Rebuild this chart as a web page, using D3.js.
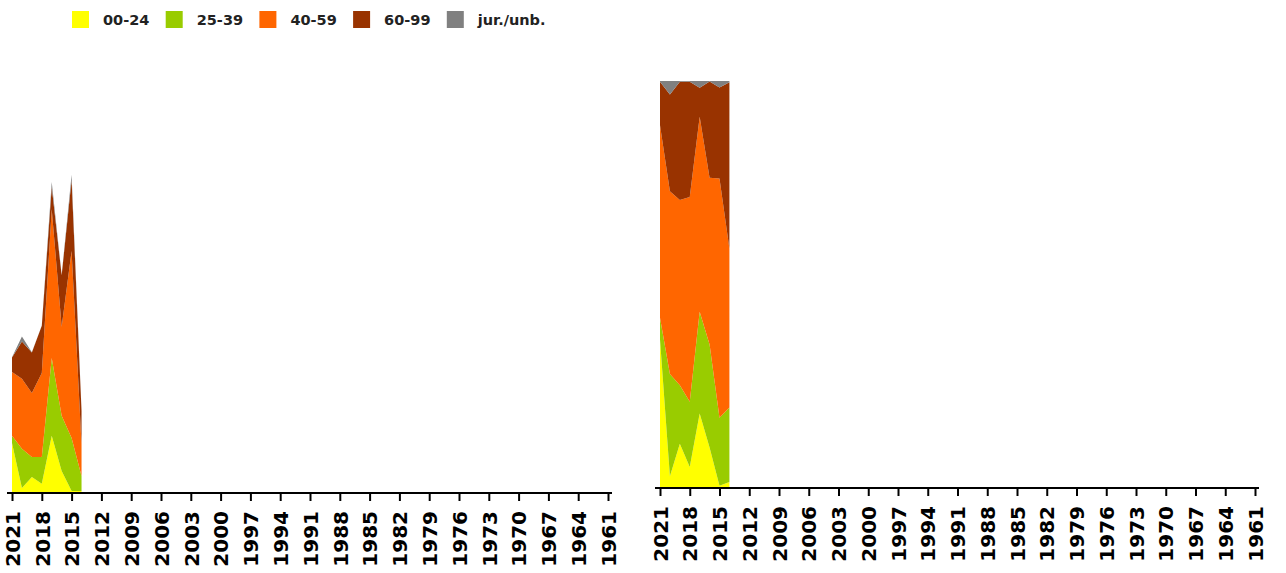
<!DOCTYPE html>
<html>
<head>
<meta charset="utf-8">
<script src="https://cdn.jsdelivr.net/npm/d3@7"></script>
<style>
  html, body { margin: 0; padding: 0; background: #fff; }
  svg { display: block; }
  text { font-family: "DejaVu Sans", Verdana, sans-serif; font-weight: bold; }
</style>
</head>
<body>
<svg id="chart" width="1286" height="573"></svg>
<script>
// ---- data ----
const years = [2021, 2020, 2019, 2018, 2017, 2016, 2015, 2014];
const ageGroups = ["00-24", "25-39", "40-59", "60-99", "jur./unb."];
const colors = ["#FFFF00", "#99CC00", "#FF6600", "#993300", "#808080"];
const v00_24 = [9.5, 0.8, 2.9, 1.6, 10.9, 4.1, 0.2, 0.2];
const v25_39 = [1.4, 7.6, 3.9, 5.2, 15.1, 10.7, 10.3, 2.9];
const v40_59 = [12.4, 13.6, 12.4, 16.3, 28.9, 17.3, 36.3, 6.2];
const v60_99 = [2.8, 7.2, 7.9, 9.2, 4.3, 10.0, 13.8, 6.5];
const vJur   = [0.05, 1.0, 0.05, 0.05, 1.0, 0.05, 1.0, 0.05];
const tickYears = d3.range(2021, 1960, -3);
const yMaxAbs = 80;

const series = [v00_24, v25_39, v40_59, v60_99, vJur];
const rows = years.map((y, i) => {
  const r = { year: y };
  ageGroups.forEach((g, k) => { r[g] = series[k][i]; });
  return r;
});

const svg = d3.select("#chart");

// ---- legend ----
const legend = svg.append("g");
ageGroups.forEach((g, k) => {
  const lx = 72 + k * 93.7;
  legend.append("rect").attr("x", lx).attr("y", 11).attr("width", 17).attr("height", 17)
    .attr("fill", colors[k]);
  legend.append("text").attr("x", lx + 31).attr("y", 25).attr("font-size", 14.5)
    .attr("fill", "#222").text(g);
});

function panel(opts) {
  const x = d3.scaleLinear().domain([2021, 1961]).range([opts.x0, opts.x1]);
  const y = d3.scaleLinear().domain(opts.yDomain).range([opts.yBottom, opts.yTop]);
  const stack = d3.stack().keys(ageGroups).order(d3.stackOrderNone).offset(opts.offset);
  const layers = stack(rows);
  const area = d3.area()
    .x(d => x(d.data.year))
    .y0(d => y(d[0]))
    .y1(d => y(d[1]));
  const g = svg.append("g");
  g.selectAll("path.layer").data(layers).join("path")
    .attr("class", "layer")
    .attr("d", area)
    .attr("fill", (d, i) => colors[i]);

  // axis
  const ax = g.append("g").attr("transform", `translate(0,${opts.axisY})`);
  ax.append("line").attr("x1", opts.x0 - 5).attr("x2", opts.x1 + 4)
    .attr("y1", 0).attr("y2", 0).attr("stroke", "#000").attr("stroke-width", 2);
  const axis = d3.axisBottom(x).tickValues(tickYears).tickSize(8).tickFormat(d3.format("d"));
  const axG = ax.append("g").call(axis);
  axG.select(".domain").remove();
  axG.selectAll(".tick line").attr("stroke", "#000").attr("stroke-width", 2);
  axG.selectAll(".tick text")
    .attr("font-size", 20)
    .attr("font-family", "'DejaVu Sans', Verdana, sans-serif")
    .attr("font-weight", "bold")
    .attr("fill", "#000")
    .attr("text-anchor", "end")
    .attr("transform", "translate(0,18) rotate(-90)")
    .attr("x", 0).attr("y", 0).attr("dy", "0.36em");
}

panel({ x0: 12, x1: 608, yBottom: 492, yTop: 80, yDomain: [0, yMaxAbs],
        offset: d3.stackOffsetNone, axisY: 493 });
panel({ x0: 660, x1: 1255, yBottom: 487, yTop: 81, yDomain: [0, 1],
        offset: d3.stackOffsetExpand, axisY: 488 });
</script>
</body>
</html>
